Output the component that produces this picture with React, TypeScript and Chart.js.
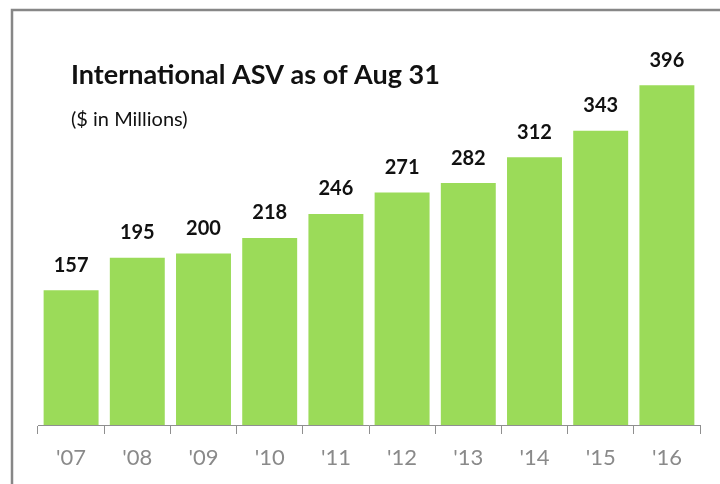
import { useEffect, useRef } from "react";
import { Chart, registerables } from "chart.js";

Chart.register(...registerables);

const categories = ["'07", "'08", "'09", "'10", "'11", "'12", "'13", "'14", "'15", "'16"];
const asvValues = [157, 195, 200, 218, 246, 271, 282, 312, 343, 396];
const chartTitle = "International ASV as of Aug 31";
const chartSubtitle = "($ in Millions)";

const FONT = "Lato, 'Open Sans', sans-serif";

export default function App() {
  const ref = useRef<HTMLCanvasElement>(null);

  useEffect(() => {
    const decor = {
      id: "decor",
      afterDraw(chart: any) {
        const ctx = chart.ctx as CanvasRenderingContext2D;
        ctx.save();
        // frame
        ctx.strokeStyle = "#878787";
        ctx.lineWidth = 2.5;
        ctx.beginPath();
        ctx.moveTo(12, 484);
        ctx.lineTo(12, 10);
        ctx.lineTo(720, 10);
        ctx.stroke();
        // title
        ctx.fillStyle = "#111";
        ctx.textAlign = "left";
        ctx.textBaseline = "alphabetic";
        ctx.font = `bold 27px ${FONT}`;
        ctx.fillText(chartTitle, 71, 84);
        ctx.font = `20px ${FONT}`;
        ctx.fillText(chartSubtitle, 71, 126);
        // data labels
        ctx.textAlign = "center";
        ctx.textBaseline = "middle";
        ctx.font = `bold 20px ${FONT}`;
        const meta = chart.getDatasetMeta(0);
        meta.data.forEach((bar: any, i: number) => {
          ctx.fillText(String(asvValues[i]), bar.x, bar.y - 25);
        });
        ctx.restore();
      },
    };

    const chart = new Chart(ref.current!, {
      type: "bar",
      data: {
        labels: categories,
        datasets: [
          {
            data: asvValues,
            backgroundColor: "#9bdb59",
            borderWidth: 0,
            barPercentage: 0.83,
            categoryPercentage: 1,
          },
        ],
      },
      options: {
        animation: false,
        responsive: true,
        maintainAspectRatio: false,
        layout: { padding: { left: 38, right: 20, top: 39, bottom: 2 } },
        plugins: {
          legend: { display: false },
          tooltip: { enabled: false },
          title: { display: false },
        },
        scales: {
          y: { display: false, min: 0, max: 450 },
          x: {
            offset: true,
            grid: {
              offset: true,
              drawOnChartArea: false,
              drawTicks: true,
              tickLength: 9,
              color: "#8f8f8f",
            },
            border: { display: true, color: "#8f8f8f", width: 1 },
            ticks: {
              color: "#8a8a8a",
              padding: 13,
              font: { family: FONT, size: 22, lineHeight: 1 },
            },
          },
        },
      },
      plugins: [decor],
    });
    return () => chart.destroy();
  }, []);

  return (
    <div style={{ position: "absolute", left: 0, top: 0, width: 720, height: 484, background: "#fff" }}>
      <canvas ref={ref} />
    </div>
  );
}
